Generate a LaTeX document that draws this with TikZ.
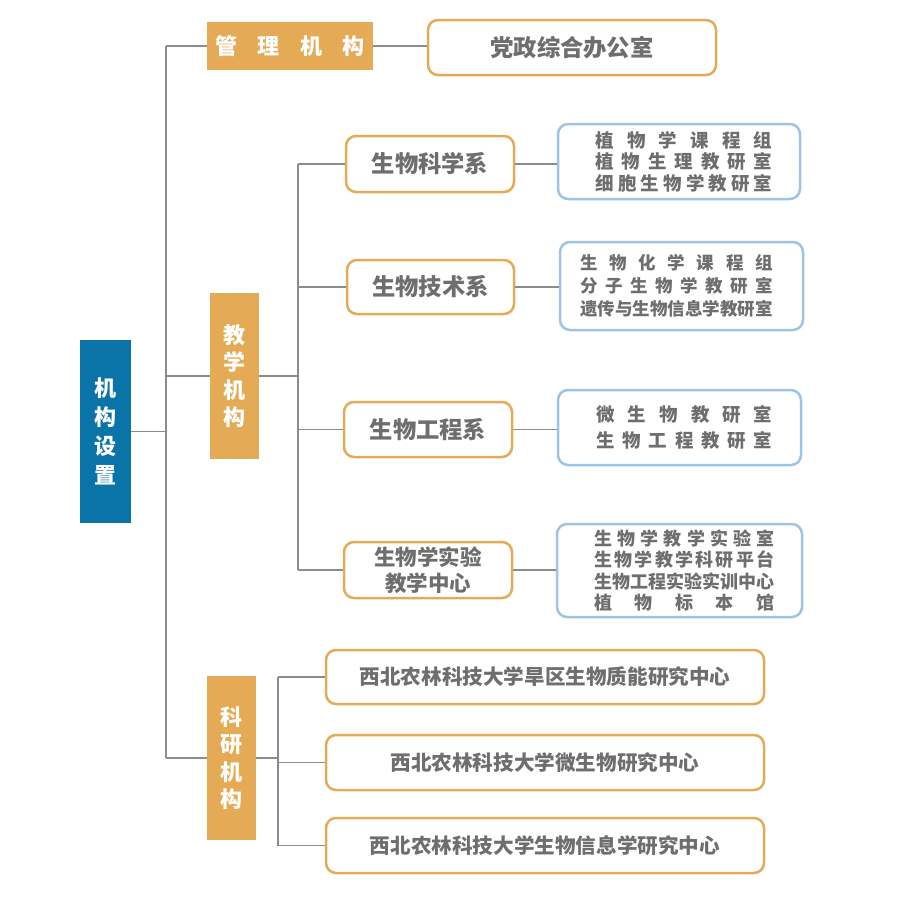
\documentclass[tikz,border=0pt]{standalone}
\usepackage{fontspec}
\setmainfont{Noto Sans CJK SC}
\definecolor{orgfill}{HTML}{E5AA55}
\definecolor{rootblue}{HTML}{0A74A9}
\definecolor{lightblue}{HTML}{9DC3E6}
\definecolor{txtgray}{HTML}{6E6E6E}
\definecolor{linegray}{HTML}{8C8C8C}
\def\sprdend{}
\def\sprd#1{\sprdA#1\sprdend}
\def\sprdA#1#2{#1\ifx\sprdend#2\else\hfill\expandafter\sprdA\expandafter#2\fi}
\newcommand\labline[3][10]{\hspace*{#1pt}\makebox[#2pt]{\sprd{#3}}}

\begin{document}
\begin{tikzpicture}
        [x=1pt, y=-1pt, inner sep=0pt,
         rootbox/.style={rectangle, fill=rootblue, text=white, align=center,
                         font=\fontsize{22}{29}\selectfont\bfseries},
         catbox/.style={rectangle, fill=orgfill, text=white, align=center,
                        font=\fontsize{22}{27.5}\selectfont\bfseries},
         unitbox/.style={rectangle, rounded corners=10pt, draw=orgfill, line width=2.5pt,
                         fill=white, text=txtgray, align=center,
                         font=\fontsize{23.3}{26}\selectfont\bfseries},
         resbox/.style={unitbox, font=\fontsize{20.6}{26}\selectfont\bfseries},
         labbox/.style={rectangle, rounded corners=10pt, draw=lightblue, line width=2.5pt,
                        fill=white, text=txtgray, align=center,
                        font=\fontsize{18.5}{21.5}\selectfont\bfseries},
         conn/.style={draw=linegray, line width=1.8pt}]
        \useasboundingbox (0,0) rectangle (922,903);
        \coordinate (trunk)    at (166,0);
        \coordinate (teachbus) at (298,0);
        \coordinate (resbus)   at (278,0);

        \node (root)  at (105.5,431.5)[rootbox, minimum width=51pt, minimum height=183pt] {机\\构\\设\\置};
        \node (mgmt)  at (290,46)[catbox, minimum width=166pt, minimum height=48pt] {\makebox[150pt]{\sprd{管理机构}}};
        \node (teach) at (234.5,376)[catbox, minimum width=49pt, minimum height=166pt] {教\\学\\机\\构};
        \node (res)   at (231.5,758)[catbox, minimum width=49pt, minimum height=164pt] {科\\研\\机\\构};

        \node (office) at (572,47.5)[unitbox, minimum width=288pt, minimum height=55pt] {党政综合办公室};

        \node (biosci)  at (430,164)[unitbox, minimum width=168pt, minimum height=56pt] {生物科学系};
        \node (biotech) at (430.5,287)[unitbox, minimum width=167pt, minimum height=54pt] {生物技术系};
        \node (bioeng)  at (428,429.5)[unitbox, minimum width=168pt, minimum height=55pt] {生物工程系};
        \node (labctr)  at (428,570)[unitbox, minimum width=168pt, minimum height=56pt,
                                     font=\fontsize{21.5}{26}\selectfont\bfseries] {生物学实验\\教学中心};

        \node (sciunits)  at (679,161.5)[labbox, minimum width=242pt, minimum height=75pt]
            {\labline{177}{植物学课程组}\\\labline{177}{植物生理教研室}\\\labline{177}{细胞生物学教研室}};
        \node (techunits) at (681.5,286)[labbox, minimum width=243pt, minimum height=88pt,
                                         font=\fontsize{17.5}{23}\selectfont\bfseries]
            {\labline[-10]{193}{生物化学课程组}\\\labline[-10]{193}{分子生物学教研室}\\\labline[-10]{193}{遗传与生物信息学教研室}};
        \node (engunits)  at (679.5,427.5)[labbox, minimum width=243pt, minimum height=75pt,
                                           font=\fontsize{18.5}{26}\selectfont\bfseries]
            {\labline{176}{微生物教研室}\\\labline{176}{生物工程教研室}};
        \node (labunits)  at (679.5,570.5)[labbox, minimum width=245pt, minimum height=93pt,
                                           font=\fontsize{18}{21.5}\selectfont\bfseries]
            {\labline{180}{生物学教学实验室}\\\labline{180}{生物学教学科研平台}\\\labline{180}{生物工程实验实训中心}\\\labline{180}{植物标本馆}};

        \node (arid)   at (545,677)[resbox, minimum width=438pt, minimum height=54pt] {西北农林科技大学旱区生物质能研究中心};
        \node (micro)  at (545,762.5)[resbox, minimum width=438pt, minimum height=55pt] {西北农林科技大学微生物研究中心};
        \node (bioinf) at (545,845.5)[resbox, minimum width=438pt, minimum height=55pt] {西北农林科技大学生物信息学研究中心};

        \draw [conn] (root.east) -- (root.east -| trunk);
        \draw [conn] (mgmt.west -| trunk) -- (res.west -| trunk);
        \draw [conn] (mgmt.west -| trunk) -- (mgmt.west);
        \draw [conn] (teach.west -| trunk) -- (teach.west);
        \draw [conn] (res.west -| trunk) -- (res.west);
        \draw [conn] (mgmt.east) -- (office.west |- mgmt.east);

        \draw [conn] (teach.east) -- (teach.east -| teachbus);
        \draw [conn] (biosci.west -| teachbus) -- (labctr.west -| teachbus);
        \draw [conn] (biosci.west -| teachbus) -- (biosci.west);
        \draw [conn] (biotech.west -| teachbus) -- (biotech.west);
        \draw [conn] (bioeng.west -| teachbus) -- (bioeng.west);
        \draw [conn] (labctr.west -| teachbus) -- (labctr.west);

        \draw [conn] (biosci.east) -- (sciunits.west |- biosci.east);
        \draw [conn] (biotech.east) -- (techunits.west |- biotech.east);
        \draw [conn] (bioeng.east) -- (engunits.west |- bioeng.east);
        \draw [conn] (labctr.east) -- (labunits.west |- labctr.east);

        \draw [conn] (res.east) -- (res.east -| resbus);
        \draw [conn] (arid.west -| resbus) -- (bioinf.west -| resbus);
        \draw [conn] (arid.west -| resbus) -- (arid.west);
        \draw [conn] (micro.west -| resbus) -- (micro.west);
        \draw [conn] (bioinf.west -| resbus) -- (bioinf.west);
    \end{tikzpicture}
\end{document}
